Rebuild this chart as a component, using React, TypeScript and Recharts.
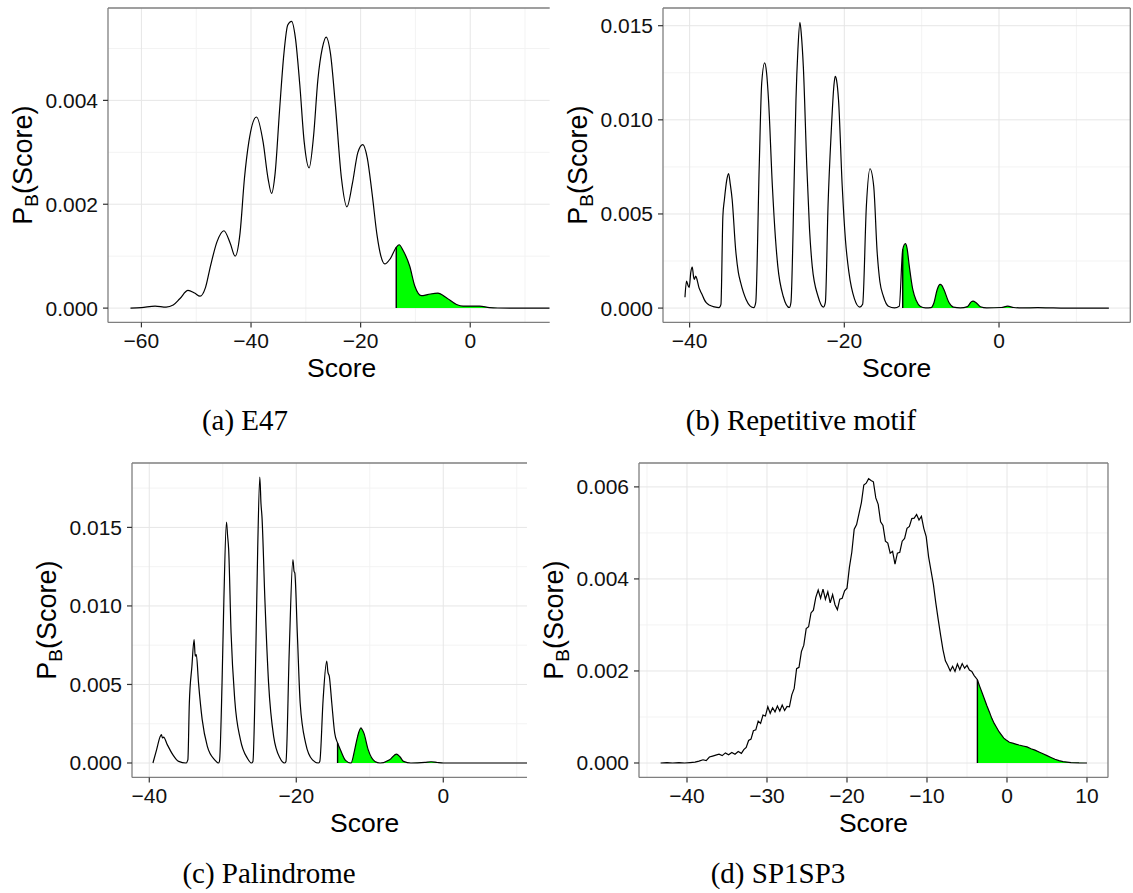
import React from 'react';
import { ComposedChart, Line, Area, XAxis, YAxis, ReferenceLine, CartesianGrid } from 'recharts';

const FONT_SANS = '"Liberation Sans", Arial, Helvetica, sans-serif';
const FONT_SERIF = '"Liberation Serif", "Times New Roman", Times, serif';

// ---------- (a) E47 ----------
const e47Score = [-62, -60, -57.5, -55.5, -54.2, -53, -51.5, -50.3, -49.3, -48.3, -47.4, -46.2, -44.95, -43.8, -42.9, -42.0, -41.2, -40.4, -39.0, -37.8, -36.9, -36.25, -35.6, -34.8, -34.0, -33.3, -32.6, -31.9, -31.1, -30.3, -29.4, -28.6, -27.8, -27.0, -26.3, -25.5, -24.6, -23.5, -22.5, -21.5, -20.5, -19.6, -18.8, -17.9, -17.0, -16.3, -15.6, -14.6, -13.5, -12.97, -12.2, -11.05, -10.1, -8.9, -7.8, -5.9, -4.35, -2.5, -1.3, 1.7, 3.5, 5, 8, 14.5];
const e47Density = [0, 0.00001, 0.00004, 0.00002, 0.00006, 0.00018, 0.00034, 0.00029, 0.00023, 0.0004, 0.00081, 0.00128, 0.00149, 0.00125, 0.001, 0.00145, 0.0025, 0.0032, 0.00368, 0.0032, 0.0025, 0.00221, 0.0026, 0.0038, 0.0049, 0.00545, 0.00552, 0.0052, 0.0043, 0.0032, 0.0027, 0.0033, 0.0044, 0.005, 0.00522, 0.0049, 0.0039, 0.0025, 0.00195, 0.0024, 0.003, 0.00315, 0.0029, 0.0022, 0.0014, 0.001, 0.00085, 0.00095, 0.00117, 0.00122, 0.0011, 0.00081, 0.00042, 0.00024, 0.00026, 0.00029, 0.0002, 0.00007, 0.00004, 0.00004, 0.00001, 0.000002, 0, 0];
const e47Threshold = -13.5;
const e47XTicks = [-60, -40, -20, 0];
const e47XMinor = [-50, -30, -10, 10];
const e47YTicks = [0, 0.002, 0.004];
const e47YMinor = [0.001, 0.003, 0.005];

// ---------- (b) Repetitive motif ----------
const repScore = [-40.6, -40.4, -40.2, -40.05, -39.85, -39.66, -39.5, -39.4, -39.2, -39.0, -38.8, -38.6, -38.4, -38.1, -37.85, -37.4, -36.8, -36.2, -35.95, -35.7, -35.5, -35.2, -34.96, -34.75, -34.5, -34.05, -33.7, -33.4, -32.7, -32.2, -31.7, -31.45, -31.0, -30.68, -30.3, -30.05, -29.8, -29.3, -28.9, -28.6, -27.9, -27.1, -26.9, -26.5, -26.25, -26.0, -25.74, -25.55, -25.3, -24.85, -24.5, -24.15, -23.4, -22.7, -22.45, -22.1, -21.7, -21.35, -21.18, -21.0, -20.75, -20.27, -19.85, -19.4, -18.7, -18.0, -17.63, -17.15, -16.68, -16.2, -15.75, -15.4, -14.95, -14.3, -13.5, -12.9, -12.45, -12.1, -11.9, -11.6, -11.15, -10.7, -10.2, -9.5, -8.8, -8.4, -7.99, -7.62, -7.4, -7.14, -6.45, -5.9, -5.0, -4.07, -3.6, -3.36, -3.0, -2.4, -1.6, 0.3, 1.12, 1.9, 3.0, 5.0, 6.5, 8.0, 14.2];
const repDensity = [0.00058, 0.00143, 0.0012, 0.0011, 0.0019, 0.00218, 0.0017, 0.00152, 0.0017, 0.00145, 0.0011, 0.0009, 0.00073, 0.00045, 0.00029, 0.00015, 0.00006, 0.00002, 0.0002, 0.00488, 0.00577, 0.0068, 0.00715, 0.0066, 0.00577, 0.00311, 0.0019, 0.00135, 0.00046, 0.00012, 0.00002, 0.0003, 0.00753, 0.01196, 0.01302, 0.0125, 0.01107, 0.00647, 0.0037, 0.00223, 0.00063, 0.00003, 0.0003, 0.0065, 0.01107, 0.01372, 0.01518, 0.0145, 0.01284, 0.00753, 0.0042, 0.00223, 0.00063, 0.00005, 0.0003, 0.0055, 0.0093, 0.0118, 0.01231, 0.0121, 0.01107, 0.00647, 0.0036, 0.00188, 0.0005, 0.00005, 0.0002, 0.00541, 0.0074, 0.00647, 0.00294, 0.0014, 0.00063, 0.0001, 0.00001, 0.0001, 0.00311, 0.00342, 0.0032, 0.00223, 0.00099, 0.0004, 0.0001, 0.00001, 0.00002, 0.0003, 0.00099, 0.00126, 0.0012, 0.001, 0.00028, 0.00005, 0.00001, 0.00008, 0.00033, 0.00037, 0.0003, 0.00007, 0.00001, 0.00003, 0.0001, 0.00003, 0.00001, 0.00002, 0.00001, 0, 0];
const repThreshold = -12.45;
const repXTicks = [-40, -20, 0];
const repXMinor = [-30, -10, 10];
const repYTicks = [0, 0.005, 0.01, 0.015];
const repYMinor = [0.0025, 0.0075, 0.0125];

// ---------- (c) Palindrome ----------
const palScore = [-39.5, -39.0, -38.5, -38.35, -38.2, -38.05, -37.55, -36.8, -36.0, -35.0, -34.75, -34.55, -34.2, -33.9, -33.75, -33.6, -33.3, -32.8, -32.1, -31.1, -30.6, -30.45, -30.1, -29.85, -29.5, -29.35, -29.2, -28.87, -28.37, -27.6, -26.65, -26.1, -25.9, -25.5, -25.25, -24.96, -24.8, -24.67, -24.27, -23.77, -23.08, -22.2, -21.6, -21.4, -20.95, -20.46, -20.3, -20.2, -19.86, -19.47, -18.73, -17.8, -17.0, -16.8, -16.35, -15.86, -15.7, -15.5, -15.17, -14.77, -14.38, -14.0, -13.3, -12.55, -12.05, -11.65, -11.2, -11.0, -10.8, -10.22, -9.3, -8.6, -7.3, -6.37, -5.9, -5.4, -4.4, -2.5, -1.66, -0.8, 0, 11.4];
const palDensity = [0, 0.00085, 0.0017, 0.0018, 0.0016, 0.00165, 0.00117, 0.00053, 0.0001, 0, 0.0002, 0.00382, 0.00616, 0.00786, 0.0068, 0.0069, 0.0051, 0.00276, 0.00106, 0.0002, 0, 0.0001, 0.0051, 0.0104, 0.01533, 0.0145, 0.0136, 0.00828, 0.00403, 0.00149, 0.0003, 0, 0.0001, 0.00722, 0.0136, 0.0182, 0.0165, 0.0157, 0.0104, 0.0051, 0.0017, 0.0003, 0, 0.0001, 0.00722, 0.01295, 0.0122, 0.0121, 0.00828, 0.00382, 0.00127, 0.0002, 0, 0.0001, 0.00403, 0.00648, 0.0058, 0.0055, 0.00382, 0.0019, 0.00127, 0.00085, 0.00017, 0, 0.00085, 0.0017, 0.00223, 0.0021, 0.0019, 0.00085, 0.0001, 0, 0.0002, 0.00057, 0.0004, 0.0001, 0, 0.00004, 0.00008, 0.00003, 0, 0];
const palThreshold = -14.38;
const palXTicks = [-40, -20, 0];
const palXMinor = [-30, -10, 10];
const palYTicks = [0, 0.005, 0.01, 0.015];
const palYMinor = [0.0025, 0.0075, 0.0125, 0.0175];

// ---------- (d) SP1SP3 ----------
const spScore = [-43.3, -42.5, -41.8, -41.0, -40.3, -39.6, -39.0, -38.5, -38.0, -37.6, -37.2, -36.8, -36.4, -36.0, -35.6, -35.2, -34.8, -34.4, -34.0, -33.6, -33.2, -32.9, -32.6, -32.3, -32.0, -31.7, -31.4, -31.1, -30.8, -30.5, -30.2, -29.9, -29.6, -29.3, -29.0, -28.7, -28.4, -28.1, -27.8, -27.5, -27.2, -26.9, -26.6, -26.3, -26.0, -25.7, -25.4, -25.1, -24.8, -24.5, -24.2, -23.9, -23.6, -23.3, -23.0, -22.7, -22.4, -22.1, -21.8, -21.5, -21.2, -20.9, -20.6, -20.3, -20.0, -19.7, -19.4, -19.1, -18.8, -18.5, -18.2, -17.9, -17.6, -17.3, -17.0, -16.7, -16.4, -16.1, -15.8, -15.5, -15.2, -14.9, -14.6, -14.3, -14.0, -13.7, -13.4, -13.1, -12.8, -12.5, -12.2, -11.9, -11.6, -11.3, -11.0, -10.7, -10.4, -10.1, -9.8, -9.5, -9.2, -8.9, -8.6, -8.3, -8.0, -7.7, -7.4, -7.1, -6.8, -6.5, -6.2, -5.9, -5.6, -5.3, -5.0, -4.7, -4.4, -4.1, -3.7, -3.4, -3.1, -2.8, -2.5, -2.2, -1.9, -1.6, -1.3, -1.0, -0.7, -0.4, -0.1, 0.3, 0.7, 1.1, 1.5, 2.0, 2.5, 3.0, 3.5, 4.0, 4.5, 5.0, 5.5, 6.0, 6.5, 7.0, 7.5, 8.0, 9.0, 10.0];
const spDensity = [0, 0.00001, 0, 0.00001, 0, 0.00001, 0.00002, 0.00004, 0.00007, 0.00005, 0.00013, 0.00015, 0.00017, 0.00019, 0.00016, 0.00022, 0.00018, 0.00023, 0.00019, 0.00025, 0.00021, 0.00029, 0.00034, 0.00049, 0.00052, 0.0007, 0.00072, 0.00091, 0.00086, 0.00104, 0.00102, 0.00122, 0.00108, 0.0012, 0.00111, 0.00124, 0.00113, 0.00126, 0.00114, 0.00123, 0.00122, 0.00148, 0.00162, 0.00205, 0.00208, 0.00242, 0.00256, 0.00292, 0.00296, 0.00326, 0.00332, 0.0036, 0.00376, 0.00358, 0.00378, 0.00356, 0.00372, 0.00348, 0.00366, 0.00344, 0.00333, 0.00356, 0.00358, 0.00374, 0.0038, 0.00425, 0.00458, 0.00508, 0.00518, 0.00542, 0.00566, 0.00604, 0.00608, 0.00618, 0.00614, 0.00611, 0.00576, 0.00562, 0.00524, 0.00516, 0.00482, 0.00478, 0.00456, 0.0046, 0.00432, 0.00456, 0.00458, 0.00482, 0.00488, 0.0051, 0.00514, 0.00531, 0.00532, 0.0054, 0.00528, 0.00536, 0.0051, 0.00492, 0.00448, 0.00418, 0.00388, 0.00348, 0.00312, 0.00278, 0.00246, 0.00222, 0.00212, 0.002, 0.0021, 0.00199, 0.00215, 0.00203, 0.00216, 0.00206, 0.00212, 0.00202, 0.00199, 0.0019, 0.00181, 0.00166, 0.00152, 0.00138, 0.00124, 0.00111, 0.00097, 0.00086, 0.00077, 0.00068, 0.00061, 0.00054, 0.0005, 0.00045, 0.00043, 0.00041, 0.00039, 0.00037, 0.00035, 0.00031, 0.00028, 0.00024, 0.0002, 0.00016, 0.00012, 0.00008, 0.00005, 0.00003, 0.00002, 0.00001, 0.000003, 0];
const spThreshold = -3.7;
const spXTicks = [-40, -30, -20, -10, 0, 10];
const spXMinor = [-45, -35, -25, -15, -5, 5];
const spYTicks = [0, 0.002, 0.004, 0.006];
const spYMinor = [0.001, 0.003, 0.005];

const captions = ['(a) E47', '(b) Repetitive motif', '(c) Palindrome', '(d) SP1SP3'];
const xTitle = 'Score';

type PanelProps = {
  scores: number[];
  density: number[];
  threshold: number;
  xTicks: number[];
  xMinor: number[];
  yTicks: number[];
  yMinor: number[];
  xDomain: [number, number];
  yDomain: [number, number];
  plotLeft: number;
  plotTop: number;
  plotW: number;
  plotH: number;
  rightBorder: boolean;
  titleShift: number;
  curve: 'monotone' | 'linear';
};

const fmtX = (v: number) => (v < 0 ? `\u2212${Math.abs(v)}` : `${v}`);
const fmtY = (v: number) => v.toFixed(3);

function Panel(p: PanelProps) {
  const data = p.scores.map((s, i) => ({ x: s, y: p.density[i] }));
  const tail = data.filter((d) => d.x >= p.threshold);
  const yAtT = tail.length ? tail[0].y : 0;
  const rightPad = p.rightBorder ? 2 : 0;
  const width = 100 + p.plotW + rightPad;
  const height = 10 + p.plotH + 70;
  const tickStyle = { fill: '#111', fontSize: 21, fontFamily: FONT_SANS };
  const border = '#7f7f7f';

  const xLabel = (props: any) => {
    const vb = props.viewBox || {};
    return (
      <text x={vb.x + vb.width / 2 + p.titleShift} y={vb.y + 54.5} textAnchor="middle" fontSize={26.5} fontFamily={FONT_SANS} fill="#000">
        {xTitle}
      </text>
    );
  };
  const yLabel = (props: any) => {
    const vb = props.viewBox || {};
    const cx = vb.x + vb.width - 76;
    const cy = vb.y + vb.height / 2;
    return (
      <text x={cx} y={cy} transform={`rotate(-90 ${cx} ${cy})`} textAnchor="middle" fontSize={27} fontFamily={FONT_SANS} fill="#000">
        P<tspan dy={6} fontSize={19}>B</tspan>
        <tspan dy={-6}>(Score)</tspan>
      </text>
    );
  };

  return (
    <div style={{ position: 'absolute', left: p.plotLeft - 100, top: p.plotTop - 10 }}>
      <ComposedChart width={width} height={height} margin={{ top: 10, right: rightPad, left: 0, bottom: 0 }}>
        <XAxis
          type="number"
          dataKey="x"
          domain={p.xDomain}
          allowDataOverflow
          ticks={p.xTicks}
          interval={0}
          tickFormatter={fmtX}
          tick={tickStyle}
          tickLine={{ stroke: '#333', strokeWidth: 1.2 }}
          tickSize={5}
          tickMargin={5.5}
          axisLine={false}
          height={70}
          label={{ content: xLabel }}
        />
        <YAxis
          type="number"
          dataKey="y"
          domain={p.yDomain}
          allowDataOverflow
          ticks={p.yTicks}
          interval={0}
          tickFormatter={fmtY}
          tick={tickStyle}
          tickLine={{ stroke: '#333', strokeWidth: 1.2 }}
          tickSize={5}
          tickMargin={5}
          axisLine={false}
          width={100}
          label={{ content: yLabel }}
        />
        <CartesianGrid stroke="#f3f3f3" strokeWidth={1} horizontalValues={p.yMinor} verticalValues={p.xMinor} />
        <CartesianGrid stroke="#e6e6e6" strokeWidth={1} horizontalValues={p.yTicks} verticalValues={p.xTicks} />
        <Area
          data={tail}
          dataKey="y"
          type={p.curve}
          fill="#00ff00"
          fillOpacity={1}
          stroke="none"
          baseValue={0}
          isAnimationActive={false}
        />
        <Line data={data} dataKey="y" type={p.curve} stroke="#000" strokeWidth={1.2} dot={false} isAnimationActive={false} />
        <ReferenceLine
          segment={[
            { x: p.threshold, y: 0 },
            { x: p.threshold, y: yAtT },
          ]}
          stroke="#000"
          strokeWidth={1.4}
          ifOverflow="visible"
        />
        <ReferenceLine x={p.xDomain[0]} stroke={border} strokeWidth={1.3} ifOverflow="visible" />
        <ReferenceLine y={p.yDomain[0]} stroke={border} strokeWidth={1.3} ifOverflow="visible" />
        <ReferenceLine y={p.yDomain[1]} stroke={border} strokeWidth={1.3} ifOverflow="visible" />
        {p.rightBorder ? <ReferenceLine x={p.xDomain[1]} stroke={border} strokeWidth={1.3} ifOverflow="visible" /> : null}
      </ComposedChart>
    </div>
  );
}

export default function App() {
  return (
    <div style={{ position: 'absolute', left: 0, top: 0, width: 1133, height: 893, background: '#fff', overflow: 'hidden' }}>
      <svg width={1133} height={893} style={{ position: 'absolute', left: 0, top: 0 }}>
        <text x={245} y={430} textAnchor="middle" fontSize={29} fontFamily={FONT_SERIF} fill="#000">{captions[0]}</text>
        <text x={801} y={430} textAnchor="middle" fontSize={29} fontFamily={FONT_SERIF} fill="#000">{captions[1]}</text>
        <text x={269} y={883} textAnchor="middle" fontSize={29} fontFamily={FONT_SERIF} fill="#000">{captions[2]}</text>
        <text x={778} y={883} textAnchor="middle" fontSize={29} fontFamily={FONT_SERIF} fill="#000">{captions[3]}</text>
      </svg>
      <Panel
        scores={e47Score}
        density={e47Density}
        threshold={e47Threshold}
        xTicks={e47XTicks}
        xMinor={e47XMinor}
        yTicks={e47YTicks}
        yMinor={e47YMinor}
        xDomain={[-66.1, 14.5]}
        yDomain={[-0.000275, 0.005779]}
        plotLeft={108.3}
        plotTop={8.3}
        plotW={441.7}
        plotH={314.4}
        rightBorder={false}
        titleShift={12.8}
        curve="monotone"
      />
      <Panel
        scores={repScore}
        density={repDensity}
        threshold={repThreshold}
        xTicks={repXTicks}
        xMinor={repXMinor}
        yTicks={repYTicks}
        yMinor={repYMinor}
        xDomain={[-43.44, 16.97]}
        yDomain={[-0.00076, 0.01594]}
        plotLeft={662.7}
        plotTop={8.3}
        plotW={467.3}
        plotH={314.4}
        rightBorder={true}
        titleShift={0}
        curve="monotone"
      />
      <Panel
        scores={palScore}
        density={palDensity}
        threshold={palThreshold}
        xTicks={palXTicks}
        xMinor={palXMinor}
        yTicks={palYTicks}
        yMinor={palYMinor}
        xDomain={[-42.35, 11.39]}
        yDomain={[-0.000917, 0.0191]}
        plotLeft={131.7}
        plotTop={463.3}
        plotW={395}
        plotH={314.4}
        rightBorder={false}
        titleShift={35.2}
        curve="monotone"
      />
      <Panel
        scores={spScore}
        density={spDensity}
        threshold={spThreshold}
        xTicks={spXTicks}
        xMinor={spXMinor}
        yTicks={spYTicks}
        yMinor={spYMinor}
        xDomain={[-46, 12.625]}
        yDomain={[-0.000313, 0.006519]}
        plotLeft={639.3}
        plotTop={463.3}
        plotW={469}
        plotH={314.4}
        rightBorder={true}
        titleShift={0}
        curve="linear"
      />
    </div>
  );
}
